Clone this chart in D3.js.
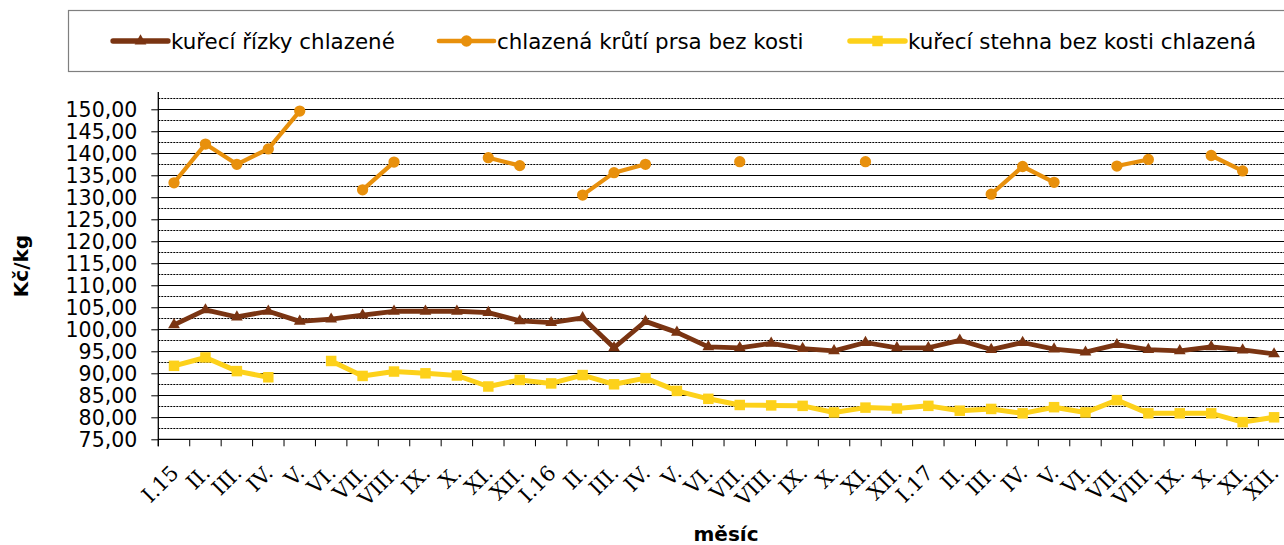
<!DOCTYPE html>
<html>
<head>
<meta charset="utf-8">
<script src="https://cdn.jsdelivr.net/npm/d3@7"></script>
<style>
  body { margin: 0; background: #fff; }
  svg { display: block; }
</style>
</head>
<body>
<svg id="chart"></svg>
<script>
// months on the x axis
const months = ["I.15","II.","III.","IV.","V.","VI.","VII.","VIII.","IX.","X.","XI.","XII.",
                "I.16","II.","III.","IV.","V.","VI.","VII.","VIII.","IX.","X.","XI.","XII.",
                "I.17","II.","III.","IV.","V.","VI.","VII.","VIII.","IX.","X.","XI.","XII."];

const seriesNames = ["kuřecí řízky chlazené", "chlazená krůtí prsa bez kosti", "kuřecí stehna bez kosti chlazená"];

const rizky = [101.0, 104.4, 102.8, 104.1, 101.8, 102.3, 103.2, 104.1, 104.1, 104.1, 103.8, 101.9,
               101.5, 102.6, 95.8, 101.8, 99.3, 96.0, 95.8, 96.8, 95.6, 95.1, 97.0, 95.8,
               95.8, 97.5, 95.4, 97.0, 95.5, 94.8, 96.5, 95.4, 95.1, 96.0, 95.3, 94.4];

const prsa = [133.3, 142.1, 137.5, 141.0, 149.6, null, 131.7, 138.0, null, null, 139.0, 137.2,
              null, 130.5, 135.6, 137.5, null, null, 138.1, null, null, null, 138.1, null,
              null, null, 130.7, 137.0, 133.4, null, 137.1, 138.6, null, 139.5, 136.0, null];

const stehna = [91.7, 93.6, 90.5, 89.1, null, 92.8, 89.4, 90.4, 90.0, 89.5, 87.0, 88.5,
                87.7, 89.6, 87.5, 88.9, 86.0, 84.2, 82.8, 82.7, 82.6, 81.1, 82.2, 82.0,
                82.6, 81.5, 81.9, 80.9, 82.3, 81.1, 83.9, 80.9, 80.9, 80.9, 78.9, 80.0];

const yTicks = d3.range(75, 150.1, 5);
const yMinor = d3.range(77.5, 153, 5);

const width = 1284, height = 545;
const plotLeft = 158.3, plotBottom = 439.3, plotTop = 92;
const plotRight = plotLeft + 36 * 31.43;

const svg = d3.select("#chart").attr("width", width).attr("height", height);

const x = d3.scaleBand().domain(d3.range(months.length)).range([plotLeft, plotRight]);
const y = d3.scaleLinear().domain([75, 150]).range([plotBottom, 109.3]);
const cx = i => x(i) + x.bandwidth() / 2;

// gridlines
svg.append("g").selectAll("line")
  .data(yMinor).enter().append("line")
  .attr("x1", plotLeft).attr("x2", plotRight)
  .attr("y1", d => Math.round(y(d)) + 0.5).attr("y2", d => Math.round(y(d)) + 0.5)
  .attr("stroke", "#000").attr("stroke-width", 1).attr("stroke-dasharray", "2,1");

svg.append("g").selectAll("line")
  .data(yTicks.slice(1)).enter().append("line")
  .attr("x1", plotLeft).attr("x2", plotRight)
  .attr("y1", d => Math.round(y(d)) + 0.5).attr("y2", d => Math.round(y(d)) + 0.5)
  .attr("stroke", "#000").attr("stroke-width", 1);

// y axis
const yAxis = d3.axisLeft(y).tickValues(yTicks).tickSize(7).tickPadding(14)
  .tickFormat(d => d3.format(".2f")(d).replace(".", ","));
const gy = svg.append("g").attr("transform", `translate(${plotLeft},0)`).call(yAxis);
gy.select(".domain").remove();
gy.selectAll(".tick line").attr("stroke", "#000");
gy.selectAll("text").attr("font-family", "DejaVu Sans").attr("font-size", "20.5px").attr("fill", "#000").attr("dy", "0.36em");
svg.append("line").attr("x1", plotLeft).attr("x2", plotLeft).attr("y1", plotTop).attr("y2", plotBottom + 7)
  .attr("stroke", "#000").attr("stroke-width", 1.3);

// x axis
svg.append("line").attr("x1", plotLeft).attr("x2", plotRight).attr("y1", plotBottom).attr("y2", plotBottom)
  .attr("stroke", "#000").attr("stroke-width", 1.3);
svg.append("g").selectAll("line")
  .data(d3.range(months.length + 1)).enter().append("line")
  .attr("x1", i => plotLeft + i * x.step()).attr("x2", i => plotLeft + i * x.step())
  .attr("y1", plotBottom).attr("y2", plotBottom + 7)
  .attr("stroke", "#000");

svg.append("g").selectAll("text")
  .data(months).enter().append("text")
  .attr("transform", (d, i) => `translate(${cx(i) + 6},${plotBottom + 35}) rotate(-45)`)
  .attr("text-anchor", "end")
  .attr("font-family", "DejaVu Serif")
  .attr("font-size", "21px")
  .text(d => d);

// axis titles
svg.append("text")
  .attr("transform", `translate(28,266) rotate(-90)`)
  .attr("text-anchor", "middle")
  .attr("font-family", "DejaVu Sans").attr("font-weight", "bold").attr("font-size", "20px")
  .text("Kč/kg");

svg.append("text")
  .attr("x", 726).attr("y", 541)
  .attr("text-anchor", "middle")
  .attr("font-family", "DejaVu Sans").attr("font-weight", "bold").attr("font-size", "20px")
  .text("měsíc");

// series
const colors = ["#7a3412", "#e8900c", "#fdd11a"];
const widths = [4.8, 4.2, 5];
const series = [rizky, prsa, stehna];

const line = d3.line()
  .defined(d => d.v != null)
  .x(d => cx(d.i))
  .y(d => y(d.v));

const tri = d3.symbol().type(d3.symbolTriangle).size(60);
const sq = d3.symbol().type(d3.symbolSquare).size(110);
const circ = d3.symbol().type(d3.symbolCircle).size(100);
const shapes = [tri, circ, sq];

series.forEach((vals, s) => {
  const pts = vals.map((v, i) => ({ i: i, v: v }));
  svg.append("path")
    .datum(pts)
    .attr("d", line)
    .attr("fill", "none")
    .attr("stroke", colors[s])
    .attr("stroke-width", widths[s])
    .attr("stroke-linejoin", "round");
  svg.append("g").selectAll("path")
    .data(pts.filter(d => d.v != null)).enter().append("path")
    .attr("d", shapes[s])
    .attr("transform", d => `translate(${cx(d.i)},${y(d.v)})`)
    .attr("fill", colors[s]);
});

// legend
const legend = svg.append("g");
legend.append("rect")
  .attr("x", 68.5).attr("y", 10.5).attr("width", 1240).attr("height", 61)
  .attr("fill", "#fff").attr("stroke", "#7f7f7f").attr("stroke-width", 1.2);

const legendX = [113, 439, 850];
seriesNames.forEach((name, s) => {
  const g = legend.append("g").attr("transform", `translate(${legendX[s]},41)`);
  g.append("line").attr("x1", 0).attr("x2", 55).attr("y1", 0).attr("y2", 0)
    .attr("stroke", colors[s]).attr("stroke-width", widths[s] + 0.5).attr("stroke-linecap", "round");
  g.append("path").attr("d", shapes[s]).attr("transform", "translate(27.5,0)").attr("fill", colors[s]);
  g.append("text")
    .attr("x", 58).attr("y", 0).attr("dy", "0.36em")
    .attr("font-family", "DejaVu Sans").attr("font-size", "21.4px")
    .text(name);
});
</script>
</body>
</html>
